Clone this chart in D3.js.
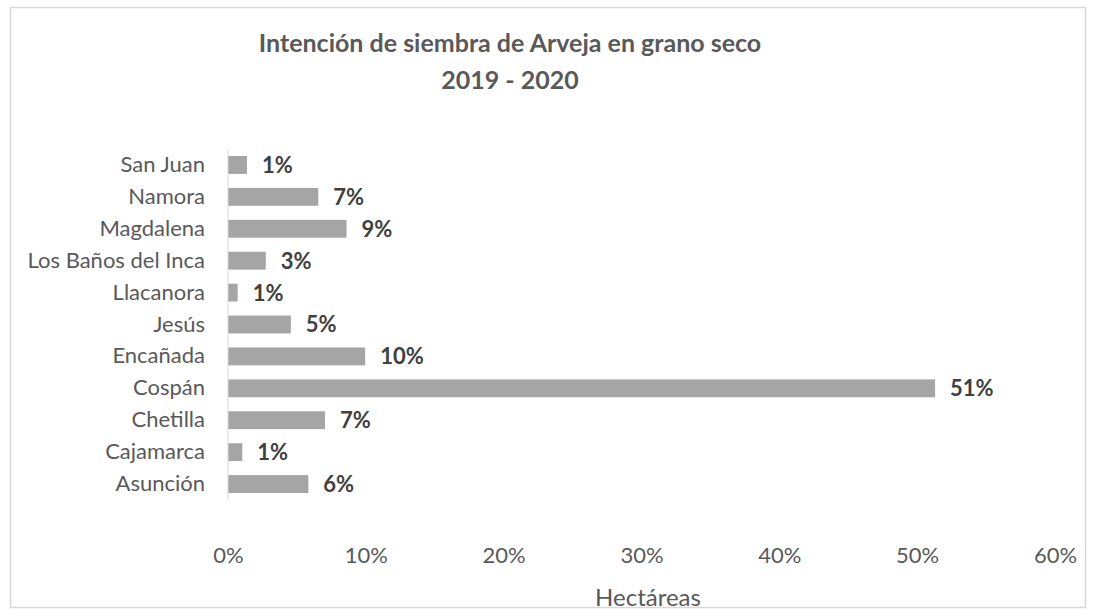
<!DOCTYPE html>
<html lang="es">
<head>
<meta charset="utf-8">
<title>Arveja grano seco</title>
<script src="https://cdn.jsdelivr.net/npm/d3@7"></script>
<style>
  body { margin: 0; background: #fff; }
  text { font-family: Lato, "Open Sans", sans-serif; fill: #595959; }
  .axis path, .axis line { stroke: none; }
  .axis text { font-size: 22px; fill: #595959; }
  .val { font-weight: bold; font-size: 22px; fill: #404040; }
  .title { font-weight: bold; font-size: 25px; }
</style>
</head>
<body>
<script>
var w = 1096, h = 616;

var districts = ["San Juan", "Namora", "Magdalena", "Los Baños del Inca", "Llacanora",
  "Jesús", "Encañada", "Cospán", "Chetilla", "Cajamarca", "Asunción"];
var shares = [0.0138, 0.0655, 0.086, 0.0274, 0.007, 0.0456, 0.0995, 0.513, 0.0704, 0.0104, 0.0583];
var xTicks = [0, 0.1, 0.2, 0.3, 0.4, 0.5, 0.6];
var titleLines = ["Intención de siembra de Arveja en grano seco", "2019 - 2020"];
var xTitle = "Hectáreas";

var svg = d3.select("body").append("svg")
  .attr("width", w)
  .attr("height", h);

// chart frame
svg.append("rect")
  .attr("x", 10.5).attr("y", 7.5)
  .attr("width", 1075).attr("height", 600)
  .attr("fill", "none")
  .attr("stroke", "#d9d9d9")
  .attr("stroke-width", 1.5);

var x = d3.scaleLinear().domain([0, 0.6]).range([228, 1055]);
var y = d3.scaleBand().domain(districts).range([149, 500]).paddingInner(0.44).paddingOuter(0.22);

var data = districts.map(function (d, i) { return { name: d, v: shares[i] }; });

svg.selectAll(".bar")
  .data(data)
  .enter().append("rect")
  .attr("class", "bar")
  .attr("x", x(0))
  .attr("y", function (d) { return y(d.name); })
  .attr("width", function (d) { return x(d.v) - x(0); })
  .attr("height", y.bandwidth())
  .attr("fill", "#a5a5a5");

svg.selectAll(".val")
  .data(data)
  .enter().append("text")
  .attr("class", "val")
  .attr("x", function (d) { return x(d.v) + 15; })
  .attr("y", function (d) { return y(d.name) + y.bandwidth() / 2; })
  .attr("dy", "0.36em")
  .text(function (d) { return d3.format(".0%")(d.v); });

// vertical category axis line
svg.append("line")
  .attr("x1", x(0)).attr("x2", x(0))
  .attr("y1", 149).attr("y2", 500)
  .attr("stroke", "#d9d9d9")
  .attr("stroke-width", 1);

svg.append("g")
  .attr("class", "axis")
  .attr("transform", "translate(" + (x(0) - 23) + ",0)")
  .call(d3.axisLeft(y).tickSize(0).tickPadding(0));

svg.append("g")
  .attr("class", "axis")
  .attr("transform", "translate(0,547)")
  .call(d3.axisBottom(x).tickValues(xTicks).tickFormat(d3.format(".0%")).tickSize(0).tickPadding(0));

svg.append("text")
  .attr("x", 648).attr("y", 606)
  .attr("text-anchor", "middle")
  .style("font-size", "24px")
  .text(xTitle);

svg.selectAll(".title")
  .data(titleLines)
  .enter().append("text")
  .attr("class", "title")
  .attr("x", 510)
  .attr("y", function (d, i) { return 52 + i * 37; })
  .attr("text-anchor", "middle")
  .text(function (d) { return d; });
</script>
</body>
</html>
